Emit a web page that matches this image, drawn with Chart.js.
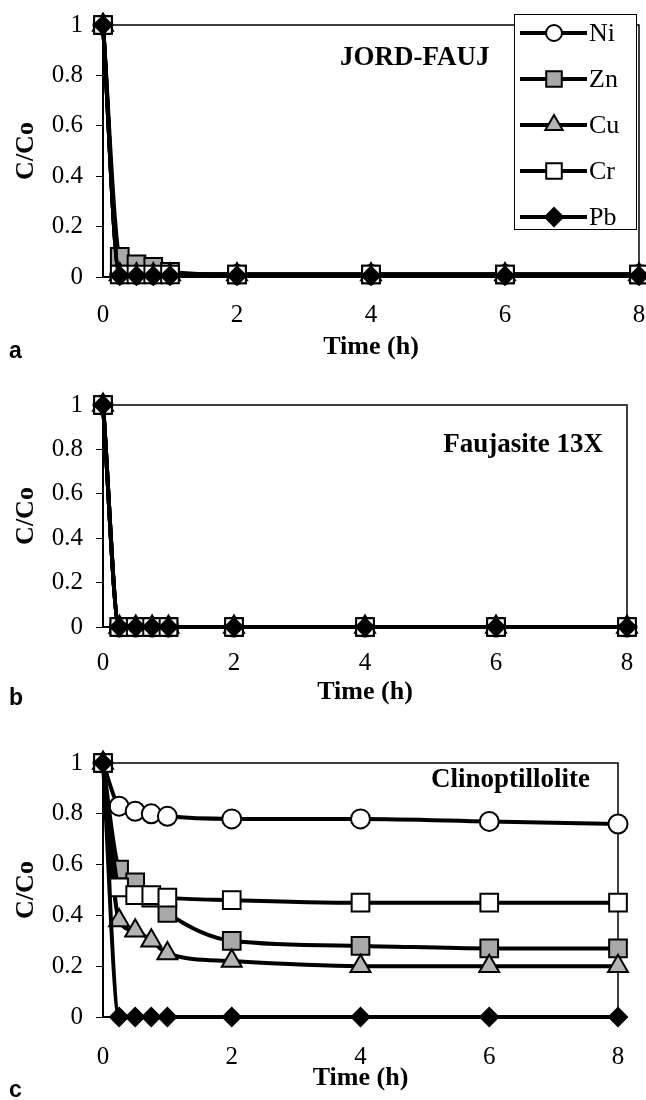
<!DOCTYPE html>
<html>
<head>
<meta charset="utf-8">
<script src="https://cdn.jsdelivr.net/npm/chart.js@4.4.1/dist/chart.umd.min.js"></script>
<style>
  body { margin: 0; background: #fff; }
  canvas { position: absolute; left: 0; }
</style>
</head>
<body>
<canvas id="chartA" width="646" height="365" style="top:0px"></canvas>
<canvas id="chartB" width="646" height="350" style="top:365px"></canvas>
<canvas id="chartC" width="646" height="385" style="top:715px"></canvas>
<script>
// Data
const hours = [0, 0.25, 0.5, 0.75, 1, 2, 4, 6, 8];
const metals = ['Ni', 'Zn', 'Cu', 'Cr', 'Pb'];
const xTicks = [0, 2, 4, 6, 8];
const yTicks = [0, 0.2, 0.4, 0.6, 0.8, 1];

// a: JORD-FAUJ
const jordNi = [1, 0.01, 0.01, 0.01, 0.01, 0.01, 0.01, 0.01, 0.01];
const jordZn = [1, 0.08, 0.05, 0.04, 0.02, 0.01, 0.01, 0.01, 0.01];
const jordCu = [1, 0.01, 0.01, 0.01, 0.01, 0.01, 0.01, 0.01, 0.01];
const jordCr = [1, 0.01, 0.01, 0.01, 0.01, 0.01, 0.01, 0.01, 0.01];
const jordPb = [1, 0.005, 0.005, 0.005, 0.005, 0.005, 0.005, 0.005, 0.005];

// b: Faujasite 13X
const faujNi = [1, 0, 0, 0, 0, 0, 0, 0, 0];
const faujZn = [1, 0, 0, 0, 0, 0, 0, 0, 0];
const faujCu = [1, 0, 0, 0, 0, 0, 0, 0, 0];
const faujCr = [1, 0, 0, 0, 0, 0, 0, 0, 0];
const faujPb = [1, 0, 0, 0, 0, 0, 0, 0, 0];

// c: Clinoptillolite
const clinNi = [1, 0.83, 0.81, 0.80, 0.79, 0.78, 0.78, 0.77, 0.76];
const clinZn = [1, 0.58, 0.53, 0.47, 0.41, 0.30, 0.28, 0.27, 0.27];
const clinCu = [1, 0.38, 0.34, 0.30, 0.25, 0.22, 0.20, 0.20, 0.20];
const clinCr = [1, 0.51, 0.48, 0.48, 0.47, 0.46, 0.45, 0.45, 0.45];
const clinPb = [1, 0, 0, 0, 0, 0, 0, 0, 0];

// marker look per metal
const markers = {
  Ni: { style: 'circle', r: 9.5, fill: '#ffffff', lr: 8 },
  Zn: { style: 'rect', r: 12.5, fill: '#a8a8a8', lr: 11 },
  Cu: { style: 'triangle', r: 11.5, fill: '#b4b4b4', lr: 10 },
  Cr: { style: 'rect', r: 12.5, fill: '#ffffff', lr: 11 },
  Pb: { style: 'rectRot', r: 9, fill: '#000000', lr: 9 }
};

const serif = '"Liberation Serif", "Times New Roman", serif';

function drawMarker(ctx, m, x, y, r) {
  ctx.beginPath();
  if (m.style === 'circle') {
    ctx.arc(x, y, r, 0, Math.PI * 2);
  } else if (m.style === 'rect') {
    const s = r * Math.SQRT1_2;
    ctx.rect(x - s, y - s, 2 * s, 2 * s);
  } else if (m.style === 'triangle') {
    ctx.moveTo(x, y - r);
    ctx.lineTo(x + r * 0.866, y + r * 0.5);
    ctx.lineTo(x - r * 0.866, y + r * 0.5);
    ctx.closePath();
  } else {
    ctx.moveTo(x, y - r);
    ctx.lineTo(x + r, y);
    ctx.lineTo(x, y + r);
    ctx.lineTo(x - r, y);
    ctx.closePath();
  }
  ctx.fillStyle = m.fill;
  ctx.fill();
  ctx.lineWidth = 2;
  ctx.strokeStyle = '#000';
  ctx.stroke();
}

function drawLegend(ctx) {
  ctx.fillStyle = '#fff';
  ctx.fillRect(514, 14, 122, 215);
  ctx.strokeStyle = '#000';
  ctx.lineWidth = 1;
  ctx.strokeRect(514.5, 14.5, 122, 215);
  metals.forEach((name, i) => {
    const y = 33 + i * 46;
    ctx.beginPath();
    ctx.moveTo(520, y);
    ctx.lineTo(587, y);
    ctx.lineWidth = 4;
    ctx.strokeStyle = '#000';
    ctx.stroke();
    drawMarker(ctx, markers[name], 554, y, markers[name].lr);
    ctx.fillStyle = '#000';
    ctx.font = '26px ' + serif;
    ctx.textAlign = 'left';
    ctx.textBaseline = 'middle';
    ctx.fillText(name, 589, y + 1);
  });
}

const decor = {
  id: 'decor',
  beforeDatasetsDraw(chart) {
    const { ctx, chartArea: a } = chart;
    ctx.save();
    ctx.strokeStyle = '#000';
    ctx.lineWidth = 1.5;
    ctx.beginPath();
    ctx.moveTo(a.left, a.top);
    ctx.lineTo(a.right, a.top);
    ctx.lineTo(a.right, a.bottom);
    ctx.stroke();
    ctx.restore();
  },
  afterDraw(chart, args, o) {
    const ctx = chart.ctx;
    ctx.save();
    ctx.fillStyle = '#000';
    ctx.textBaseline = 'alphabetic';
    ctx.font = 'bold 27px ' + serif;
    ctx.textAlign = o.labelAlign;
    ctx.fillText(o.label, o.labelX, o.labelY);
    ctx.textAlign = 'left';
    ctx.font = 'bold 23px "Liberation Sans", Arial, sans-serif';
    ctx.fillText(o.letter, 9, o.letterY);
    if (o.legend) drawLegend(ctx);
    ctx.restore();
  }
};

function makeChart(id, series, p) {
  const canvas = document.getElementById(id);
  const H = canvas.height;
  const datasets = metals.map((name, i) => {
    const m = markers[name];
    return {
      label: name,
      data: hours.map((h, k) => ({ x: h, y: series[i][k] })),
      borderColor: '#000',
      borderWidth: 4,
      cubicInterpolationMode: 'monotone',
      pointStyle: m.style,
      pointRadius: m.r,
      pointBackgroundColor: m.fill,
      pointBorderColor: '#000',
      pointBorderWidth: 2,
      clip: false,
      order: metals.length - i
    };
  });
  return new Chart(canvas, {
    type: 'line',
    data: { datasets },
    plugins: [decor],
    options: {
      responsive: false,
      animation: false,
      devicePixelRatio: 1,
      layout: { autoPadding: false, padding: { top: p.top, right: 646 - p.right, left: 0, bottom: 0 } },
      plugins: {
        legend: { display: false },
        tooltip: { enabled: false },
        decor: p.decor
      },
      scales: {
        x: {
          type: 'linear',
          min: 0,
          max: 8,
          afterBuildTicks: s => { s.ticks = xTicks.map(v => ({ value: v })); },
          afterFit: s => {
            s.height = H - p.bottom;
            s.paddingLeft = 0;
            s.paddingRight = 0;
          },
          grid: { display: false, drawTicks: false },
          border: { display: true, color: '#000', width: 2 },
          ticks: { color: '#000', padding: p.tickPad, font: { family: serif, size: 25 } },
          title: {
            display: true,
            text: 'Time (h)',
            color: '#000',
            font: { family: serif, size: 26, weight: 'bold' },
            padding: { top: 0, bottom: p.titlePad }
          }
        },
        y: {
          min: 0,
          max: 1,
          afterBuildTicks: s => { s.ticks = yTicks.map(v => ({ value: v })); },
          afterFit: s => {
            s.width = 103;
            s.paddingTop = 0;
            s.paddingBottom = 0;
          },
          grid: { display: true, drawOnChartArea: false, drawTicks: true, tickLength: 7, color: '#000', lineWidth: 1 },
          border: { display: true, color: '#000', width: 2 },
          ticks: { color: '#000', padding: 13, font: { family: serif, size: 25 }, callback: v => String(v) },
          title: {
            display: true,
            text: 'C/Co',
            color: '#000',
            font: { family: serif, size: 26, weight: 'bold' },
            padding: { top: 11, bottom: 0 }
          }
        }
      }
    }
  });
}

makeChart('chartA', [jordNi, jordZn, jordCu, jordCr, jordPb], {
  top: 25, bottom: 277, right: 639, tickPad: 23, titlePad: 2,
  decor: { label: 'JORD-FAUJ', labelAlign: 'left', labelX: 340, labelY: 65, letter: 'a', letterY: 358, legend: true }
});

makeChart('chartB', [faujNi, faujZn, faujCu, faujCr, faujPb], {
  top: 40, bottom: 262, right: 627, tickPad: 21, titlePad: 7,
  decor: { label: 'Faujasite 13X', labelAlign: 'right', labelX: 603, labelY: 87, letter: 'b', letterY: 340, legend: false }
});

makeChart('chartC', [clinNi, clinZn, clinCu, clinCr, clinPb], {
  top: 48, bottom: 302, right: 618, tickPad: 25, titlePad: 6,
  decor: { label: 'Clinoptillolite', labelAlign: 'right', labelX: 590, labelY: 72, letter: 'c', letterY: 382, legend: false }
});
</script>
</body>
</html>
